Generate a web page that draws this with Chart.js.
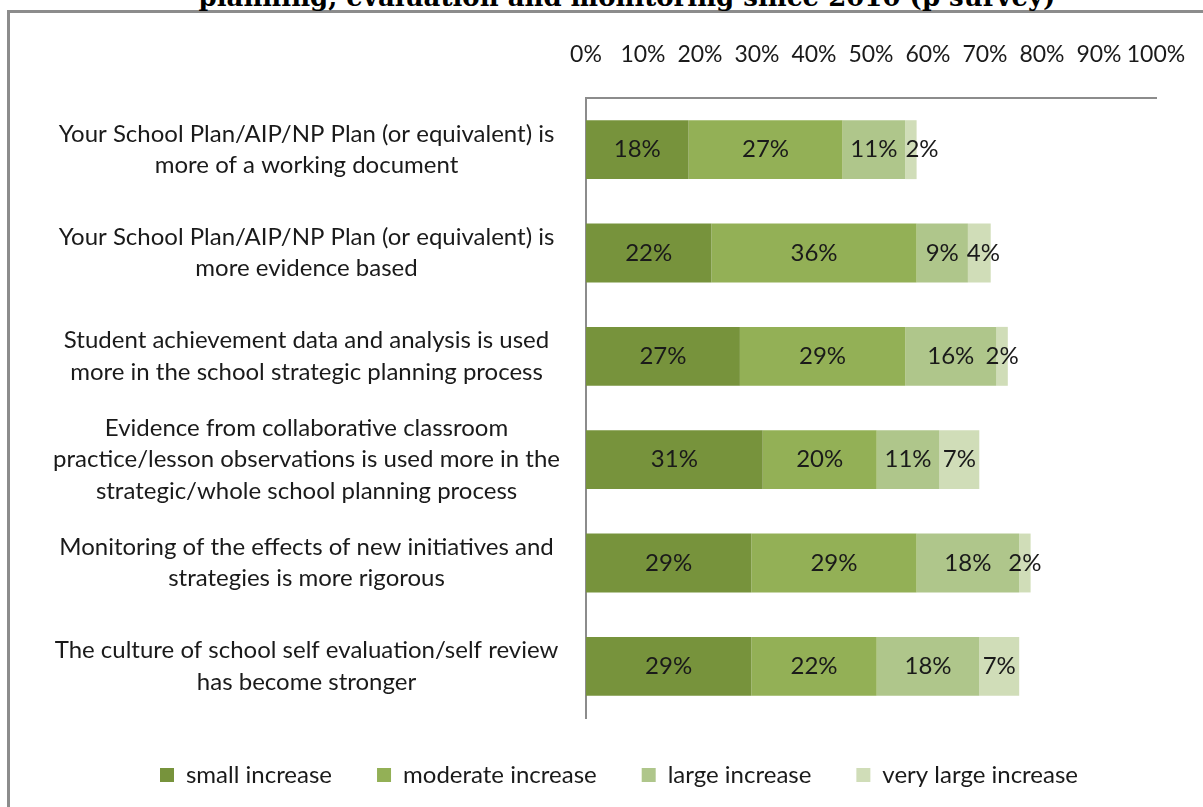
<!DOCTYPE html>
<html>
<head>
<meta charset="utf-8">
<script src="https://cdn.jsdelivr.net/npm/chart.js@4.4.0/dist/chart.umd.min.js"></script>
<style>
  html, body { margin: 0; padding: 0; background: #fff; overflow: hidden; }
  #wrap { position: relative; width: 1203px; height: 807px; overflow: hidden; }
  #frame { position: absolute; left: 7px; top: 10px; width: 1300px; height: 900px;
           border-left: 3px solid #8c8c8c; border-top: 3px solid #8c8c8c; }
  #title { position: absolute; left: 0; width: 1254px; top: -16px; text-align: center;
           font: bold 26px "DejaVu Serif", "Liberation Serif", serif; line-height: 1; color: #000; }
  canvas { position: absolute; left: 0; top: 0; }
</style>
</head>
<body>
<div id="wrap">
  <div id="frame"></div>
  <div id="title">planning, evaluation and monitoring since 2010 (p survey)</div>
  <canvas id="barChart" width="1203" height="807"></canvas>
</div>
<script>
const categories = [
  ['Your School Plan/AIP/NP Plan (or equivalent) is', 'more of a working document'],
  ['Your School Plan/AIP/NP Plan (or equivalent) is', 'more evidence based'],
  ['Student achievement data and analysis is used', 'more in the school strategic planning process'],
  ['Evidence from collaborative classroom', 'practice/lesson observations is used more in the', 'strategic/whole school planning process'],
  ['Monitoring of the effects of new initiatives and', 'strategies is more rigorous'],
  ['The culture of school self evaluation/self review', 'has become stronger']
];

const seriesNames = ['small increase', 'moderate increase', 'large increase', 'very large increase'];
const smallIncrease = [18, 22, 27, 31, 29, 29];
const moderateIncrease = [27, 36, 29, 20, 29, 22];
const largeIncrease = [11, 9, 16, 11, 18, 18];
const veryLargeIncrease = [2, 4, 2, 7, 2, 7];
const tickValues = [0, 10, 20, 30, 40, 50, 60, 70, 80, 90, 100];

const seriesColors = ['#77933C', '#93B056', '#AFC68B', '#D0DDB8'];
const seriesData = [smallIncrease, moderateIncrease, largeIncrease, veryLargeIncrease];

const textFont = 'Lato, "Open Sans", sans-serif';
const textColor = '#1a1a1a';

// writes the percentage in the middle of every bar segment,
// nudging a label right when it would run into the one before it
const segmentLabels = {
  id: 'segmentLabels',
  afterDatasetsDraw(chart) {
    const ctx = chart.ctx;
    ctx.save();
    ctx.font = '24px ' + textFont;
    ctx.fillStyle = textColor;
    ctx.textAlign = 'center';
    ctx.textBaseline = 'middle';
    const lastRight = [];
    chart.data.datasets.forEach((ds, i) => {
      chart.getDatasetMeta(i).data.forEach((bar, j) => {
        const text = ds.data[j] + '%';
        const w = ctx.measureText(text).width;
        let x = (bar.x + bar.base) / 2;
        if (lastRight[j] !== undefined && x - w / 2 < lastRight[j] + 8) {
          x = lastRight[j] + 8 + w / 2;
        }
        lastRight[j] = x + w / 2;
        ctx.fillText(text, x, bar.y);
      });
    });
    ctx.restore();
  }
};

// centre the legend row under the whole frame rather than the padded box
const legendShift = {
  id: 'legendShift',
  afterLayout(chart) {
    chart.legend.left += 26;
    chart.legend.right += 26;
  }
};

const barCtx = document.getElementById('barChart').getContext('2d');
new Chart(barCtx, {
  type: 'bar',
  data: {
    labels: categories,
    datasets: seriesNames.map((name, i) => ({
      label: name,
      data: seriesData[i],
      backgroundColor: seriesColors[i],
      borderWidth: 0,
      barPercentage: 0.57,
      categoryPercentage: 1
    }))
  },
  options: {
    indexAxis: 'y',
    responsive: false,
    animation: false,
    layout: {
      padding: { left: 30, right: 47, top: 38, bottom: 10 }
    },
    plugins: {
      legend: {
        position: 'bottom',
        labels: {
          color: textColor,
          boxWidth: 14,
          boxHeight: 14,
          padding: 45,
          font: { family: textFont, size: 24 }
        }
      },
      tooltip: { enabled: false }
    },
    scales: {
      x: {
        position: 'top',
        stacked: true,
        min: 0,
        max: 100,
        afterBuildTicks: (scale) => { scale.ticks = tickValues.map(v => ({ value: v })); },
        afterFit: (scale) => {
          scale.height = 60;
          // let the 100% label hang into the right margin
          scale.paddingLeft = 0;
          scale.paddingRight = 0;
        },
        grid: { display: false, drawTicks: false },
        border: { display: true, color: '#8c8c8c', width: 2 },
        ticks: {
          autoSkip: false,
          maxRotation: 0,
          padding: 30,
          color: textColor,
          font: { family: textFont, size: 23 },
          callback: (v) => v + '%'
        }
      },
      y: {
        stacked: true,
        afterFit: (scale) => { scale.width = 556; },
        grid: { display: false, drawTicks: false },
        border: { display: true, color: '#8c8c8c', width: 2 },
        ticks: {
          crossAlign: 'center',
          padding: 26,
          color: textColor,
          font: { family: textFont, size: 24, lineHeight: 1.3 }
        }
      }
    }
  },
  plugins: [segmentLabels, legendShift]
});
</script>
</body>
</html>
